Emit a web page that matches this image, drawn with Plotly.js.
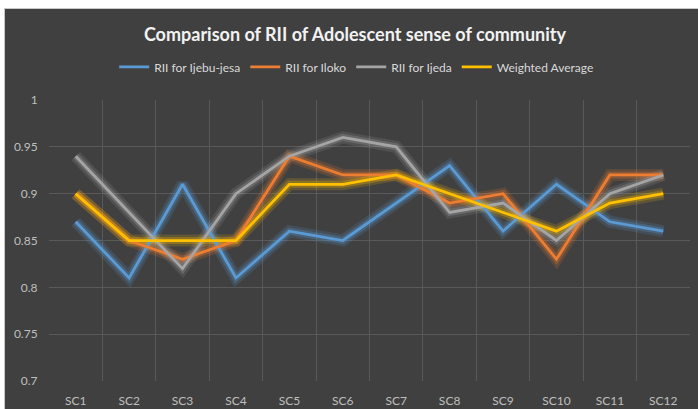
<!DOCTYPE html>
<html>
<head>
<meta charset="utf-8">
<script src="https://cdn.plot.ly/plotly-3.0.1.min.js"></script>
<style>
  html, body { margin: 0; padding: 0; background: #ffffff; }
  body { width: 698px; height: 409px; position: relative; overflow: hidden; }
  #frame { position: absolute; left: 4px; top: 8px; width: 694px; height: 401px;
           border-top: 1px solid #c8c8c8; border-left: 1px solid #c8c8c8; box-sizing: border-box; }
  #chart { position: absolute; left: 0; top: 0; width: 693px; height: 400px; }
</style>
</head>
<body>
<div id="frame"><div id="chart"></div></div>
<script>
// Items on the x axis
const categories = ['SC1', 'SC2', 'SC3', 'SC4', 'SC5', 'SC6', 'SC7', 'SC8', 'SC9', 'SC10', 'SC11', 'SC12'];

// Relative importance index per community
const riiIjebuJesa = [0.87, 0.81, 0.91, 0.81, 0.86, 0.85, 0.89, 0.93, 0.86, 0.91, 0.87, 0.86];
const riiIloko     = [0.90, 0.85, 0.83, 0.85, 0.94, 0.92, 0.92, 0.89, 0.90, 0.83, 0.92, 0.92];
const riiIjeda     = [0.94, 0.88, 0.82, 0.90, 0.94, 0.96, 0.95, 0.88, 0.89, 0.85, 0.90, 0.92];
const weightedAvg  = [0.90, 0.85, 0.85, 0.85, 0.91, 0.91, 0.92, 0.90, 0.88, 0.86, 0.89, 0.90];

const yTicks = [0.7, 0.75, 0.8, 0.85, 0.9, 0.95, 1];
const yTickText = ['0.7', '0.75', '0.8', '0.85', '0.9', '0.95', '1'];

const seriesList = [
  { name: 'RII for Ijebu-jesa', y: riiIjebuJesa, color: '#5b9bd5', glow: 'rgba(91,155,213,0.28)' },
  { name: 'RII for Iloko',      y: riiIloko,     color: '#ed7d31', glow: 'rgba(237,125,49,0.28)' },
  { name: 'RII for Ijeda',      y: riiIjeda,     color: '#a5a5a5', glow: 'rgba(190,190,190,0.22)' },
  { name: 'Weighted Average',   y: weightedAvg,  color: '#ffc000', glow: 'rgba(255,192,0,0.28)' }
];

const traces = [];
// soft glow underneath each line: a wide faint halo plus a narrower brighter one
seriesList.forEach(s => {
  traces.push({
    x: categories, y: s.y, type: 'scatter', mode: 'lines',
    line: { color: s.glow, width: 12 }, opacity: 0.6, showlegend: false, hoverinfo: 'skip'
  });
  traces.push({
    x: categories, y: s.y, type: 'scatter', mode: 'lines',
    line: { color: s.glow, width: 7 }, showlegend: false, hoverinfo: 'skip'
  });
});
seriesList.forEach(s => {
  traces.push({
    x: categories, y: s.y, type: 'scatter', mode: 'lines', name: s.name,
    line: { color: s.color, width: 2.75 }
  });
});

const fontFamily = 'Lato, "Open Sans", sans-serif';

const layout = {
  width: 693, height: 400,
  paper_bgcolor: '#404040',
  plot_bgcolor: '#404040',
  margin: { l: 44, r: 8, t: 91, b: 28 },
  font: { family: fontFamily, color: '#bfbfbf', size: 12 },
  title: {
    text: '<b>Comparison of RII of Adolescent sense of community</b>',
    font: { family: fontFamily, size: 18, color: '#f2f2f2' },
    x: 0.505, xanchor: 'center', y: 0.935, yanchor: 'middle'
  },
  showlegend: true,
  legend: {
    orientation: 'h', x: 0.48, xanchor: 'center', y: 1.118, yanchor: 'middle',
    font: { family: fontFamily, size: 12, color: '#d9d9d9' },
    bgcolor: 'rgba(0,0,0,0)', itemwidth: 30
  },
  xaxis: {
    type: 'category',
    range: [-0.5, 11.5],
    tickson: 'boundaries',
    showgrid: true, gridcolor: '#595959', gridwidth: 1,
    ticks: '', ticklabelstandoff: 11,
    showline: false, zeroline: false,
    tickfont: { family: fontFamily, size: 12, color: '#bfbfbf' },
    fixedrange: true
  },
  yaxis: {
    range: [0.7, 1],
    tickvals: yTicks, ticktext: yTickText,
    showgrid: true, gridcolor: '#595959', gridwidth: 1,
    ticks: 'outside', ticklen: 8, tickcolor: 'rgba(0,0,0,0)',
    showline: false, zeroline: false,
    tickfont: { family: fontFamily, size: 12, color: '#bfbfbf' },
    fixedrange: true
  }
};

Plotly.newPlot('chart', traces, layout, { displayModeBar: false, staticPlot: true });
</script>
</body>
</html>
